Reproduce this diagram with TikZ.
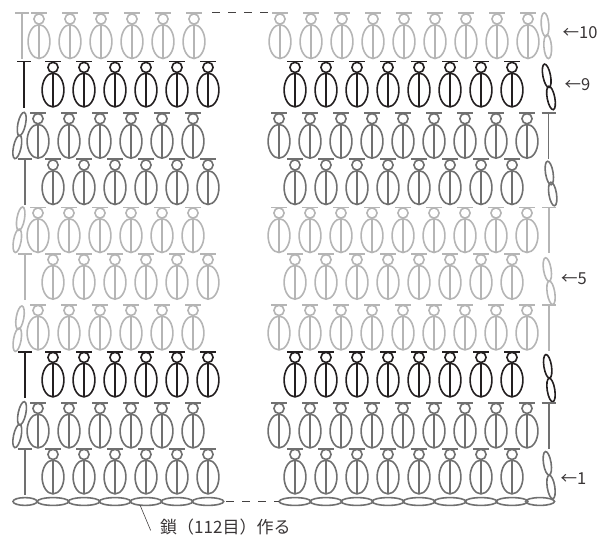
\documentclass[tikz,border=0pt]{standalone}
\usepackage{fontspec}
\setmainfont{Noto Sans CJK JP}
\definecolor{inkL}{HTML}{B5B5B5}
\definecolor{inkM}{HTML}{707070}
\definecolor{inkD}{HTML}{231F20}
\tikzset{
  yarn/.style={line width=1.6pt},
  leader/.style={line width=0.6pt,color=inkD!85},
  gap/.style={line width=0.8pt,color=inkD!85,dash pattern=on 8pt off 8pt},
  lab/.style={inner sep=0pt,anchor=west,text=inkD!90,font=\fontsize{16.5}{20}\selectfont},
  baselab/.style={lab,font=\fontsize{17}{20}\selectfont},
  stitch/.pic={
    \draw[yarn] (-8,0) -- (8,0);
    \draw[yarn] (0,5.7) ellipse [x radius=5.1pt,y radius=5.1pt];
    \draw[yarn] (0,28.3) ellipse [x radius=10.9pt,y radius=16.9pt];
    \draw[yarn] (0,11) -- (0,45.4);
  },
  tee/.pic={
    \draw[yarn] (-7,0) -- (7,0);
    \draw[yarn] (0,0) -- (0,46);
  }
}
% x-start, y, number-1
\newcommand\stitchrun[3]{\foreach \i in {0,...,#3} \pic at ({#1+31*\i},#2) {stitch};}
% upper x,y lower x,y tilt
\newcommand\chainpair[5]{%
  \draw[yarn,rotate around={#5:(#1,#2)}] (#1,#2) ellipse [x radius=3.8pt,y radius=11.9pt];
  \draw[yarn,rotate around={#5:(#3,#4)}] (#3,#4) ellipse [x radius=3.8pt,y radius=11.9pt];
}
\begin{document}
\begin{tikzpicture}[x=1pt,y=-1pt]
\useasboundingbox (0,0) rectangle (601,537);

% row 10
\begin{scope}[color=inkL]
  \pic at (22,13.3) {tee};
  \stitchrun{39}{13.3}{5}
  \stitchrun{280}{13.3}{8}
  \chainpair{545}{24.7}{547.7}{46.7}{4}
\end{scope}
% row 9
\begin{scope}[color=inkD]
  \pic at (24,61.7) {tee};
  \stitchrun{53}{61.7}{5}
  \stitchrun{295}{61.7}{7}
  \chainpair{546.7}{75.8}{551}{98}{11}
\end{scope}
% row 8
\begin{scope}[color=inkM]
  \chainpair{21.7}{124}{17.3}{147}{-12}
  \stitchrun{38}{113}{5}
  \stitchrun{279}{113}{8}
  \pic at (548.5,113) {tee};
\end{scope}
% row 7
\begin{scope}[color=inkM]
  \pic at (25,159.3) {tee};
  \stitchrun{53}{159.3}{5}
  \stitchrun{295}{159.3}{7}
  \chainpair{549.3}{173}{552.7}{194}{9}
\end{scope}
% row 6
\begin{scope}[color=inkL]
  \chainpair{20.7}{218.7}{17.3}{240.8}{-10}
  \stitchrun{38}{207.3}{5}
  \stitchrun{279}{207.3}{8}
  \pic at (549,207.3) {tee};
\end{scope}
% row 5
\begin{scope}[color=inkL]
  \pic at (25,254) {tee};
  \stitchrun{53}{254}{5}
  \stitchrun{295}{254}{7}
  \chainpair{547.3}{269.5}{551}{292.8}{9}
\end{scope}
% row 4
\begin{scope}[color=inkL]
  \chainpair{20}{317.7}{17.3}{339.7}{-10}
  \stitchrun{38}{304.7}{5}
  \stitchrun{279}{304.7}{8}
  \pic at (549,304.7) {tee};
\end{scope}
% row 3
\begin{scope}[color=inkD]
  \pic at (25,351.7) {tee};
  \stitchrun{53}{351.7}{5}
  \stitchrun{295}{351.7}{7}
  \chainpair{547.7}{366.3}{551}{390}{9}
\end{scope}
% row 2
\begin{scope}[color=inkM]
  \chainpair{22}{413.3}{17.3}{436}{-12}
  \stitchrun{38}{402.7}{5}
  \stitchrun{279}{402.7}{8}
  \pic at (548.7,402.7) {tee};
\end{scope}
% row 1
\begin{scope}[color=inkM]
  \pic at (25,448.7) {tee};
  \stitchrun{53}{448.7}{5}
  \stitchrun{295}{448.7}{7}
  \chainpair{547.3}{463.3}{551}{487}{9}
\end{scope}

% foundation chain
\begin{scope}[color=inkM]
  \draw[yarn] (25,501.5) ellipse [x radius=12pt,y radius=3.9pt];
  \foreach \i in {0,...,5}
    \draw[yarn] ({53+31*\i},501.5) ellipse [x radius=15.7pt,y radius=3.9pt];
  \foreach \i in {0,...,7}
    \draw[yarn] ({295+31*\i},501.5) ellipse [x radius=15.9pt,y radius=3.9pt];
  \draw[yarn] (540,501.5) ellipse [x radius=14.5pt,y radius=3.9pt];
\end{scope}

% omitted middle
\coordinate (gapTopA) at (212,12.5);
\coordinate (gapTopB) at (270,12.5);
\coordinate (gapBotA) at (226,501.7);
\coordinate (gapBotB) at (279,501.7);
\draw[gap] (gapTopA) -- (gapTopB);
\draw[gap] (gapBotA) -- (gapBotB);

% labels
\node[lab] (r10) at (562.5,33) {←10};
\node[lab] (r9) at (564.5,85) {←9};
\node[lab] (r5) at (561,279) {←5};
\node[lab] (r1) at (560.5,479) {←1};
\node[baselab] (base) at (160,527) {鎖（112目）作る};
\coordinate (chainPoint) at (140,505);
\coordinate (leaderEnd) at (150.7,530.5);
\draw[leader] (chainPoint) -- (leaderEnd);
\end{tikzpicture}
\end{document}
